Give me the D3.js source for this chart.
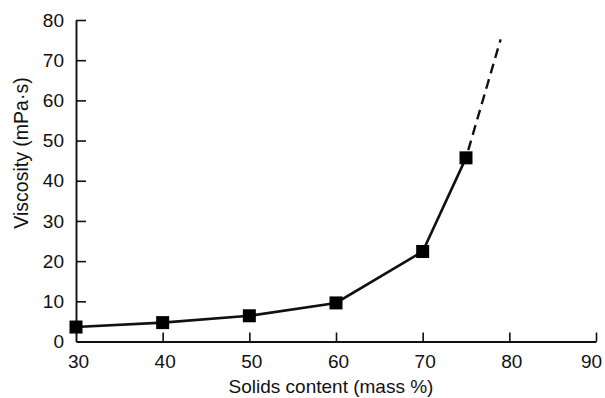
<!DOCTYPE html>
<html>
<head>
<meta charset="utf-8">
<script src="https://cdn.jsdelivr.net/npm/d3@7"></script>
<style>
  body { margin: 0; background: #fff; }
  text { font-family: "Liberation Sans", Arial, sans-serif; fill: #111; }
</style>
</head>
<body>
<svg id="chart" width="605" height="398"></svg>
<script>
// measured points (solid line) and the dashed extrapolation
const solids = [30, 40, 50, 60, 70, 75];
const viscosity = [3.6, 4.7, 6.4, 9.6, 22.4, 45.7];
const extraSolids = [75, 79];
const extraViscosity = [45.7, 75.2];
const xTicks = [30, 40, 50, 60, 70, 80, 90];
const yTicks = [0, 10, 20, 30, 40, 50, 60, 70, 80];

const CONFIG = {
    left: 76, right: 596,
    top: 20, bottom: 341.5,
    marker: 13,
    font: 19
};

const svg = d3.select('#chart');
const x = d3.scaleLinear().domain([30, 90]).range([CONFIG.left, CONFIG.right]);
const y = d3.scaleLinear().domain([0, 80]).range([CONFIG.bottom, CONFIG.top]);

// axes, ticks pointing inward
const xAxis = svg.append('g')
    .attr('transform', `translate(0,${CONFIG.bottom})`)
    .call(d3.axisBottom(x).tickValues(xTicks).tickSizeInner(-9).tickSizeOuter(0).tickPadding(13));
const yAxis = svg.append('g')
    .attr('transform', `translate(${CONFIG.left},0)`)
    .call(d3.axisLeft(y).tickValues(yTicks).tickSizeInner(-10).tickSizeOuter(0).tickPadding(12));

[xAxis, yAxis].forEach(g => {
    g.select('.domain').attr('stroke', '#111').attr('stroke-width', 1.9);
    g.selectAll('.tick line').attr('stroke', '#111').attr('stroke-width', 1.6);
    g.selectAll('.tick text').attr('font-size', CONFIG.font).attr('font-family', '"Liberation Sans", Arial, sans-serif').attr('fill', '#111');
});
xAxis.selectAll('.tick text').attr('dx', d => d === 90 ? -5 : 2);
// no tick at origin (the other axis covers it)
xAxis.selectAll('.tick').filter(d => d === 30).select('line').remove();
yAxis.selectAll('.tick').filter(d => d === 0).select('line').remove();

// data line
const line = d3.line().x(d => x(d[0])).y(d => y(d[1]));
const pts = solids.map((s, i) => [s, viscosity[i]]);
const extra = extraSolids.map((s, i) => [s, extraViscosity[i]]);

svg.append('path')
    .datum(extra)
    .attr('d', line)
    .attr('fill', 'none')
    .attr('stroke', '#111')
    .attr('stroke-width', 2.4)
    .attr('stroke-dasharray', '10,6')
    .attr('stroke-dashoffset', -8);

svg.append('path')
    .datum(pts)
    .attr('d', line)
    .attr('fill', 'none')
    .attr('stroke', '#111')
    .attr('stroke-width', 2.6);

svg.selectAll('.marker')
    .data(pts)
    .enter()
    .append('rect')
    .attr('class', 'marker')
    .attr('x', d => x(d[0]) - CONFIG.marker / 2)
    .attr('y', d => y(d[1]) - CONFIG.marker / 2)
    .attr('width', CONFIG.marker)
    .attr('height', CONFIG.marker)
    .attr('fill', '#000');

// titles
svg.append('text')
    .attr('x', 331)
    .attr('y', 393)
    .attr('text-anchor', 'middle')
    .attr('font-size', CONFIG.font)
    .text('Solids content (mass %)');

svg.append('text')
    .attr('transform', 'translate(28,153) rotate(-90)')
    .attr('text-anchor', 'middle')
    .attr('font-size', CONFIG.font + 0.5)
    .text('Viscosity (mPa\u00b7s)');
</script>
</body>
</html>
